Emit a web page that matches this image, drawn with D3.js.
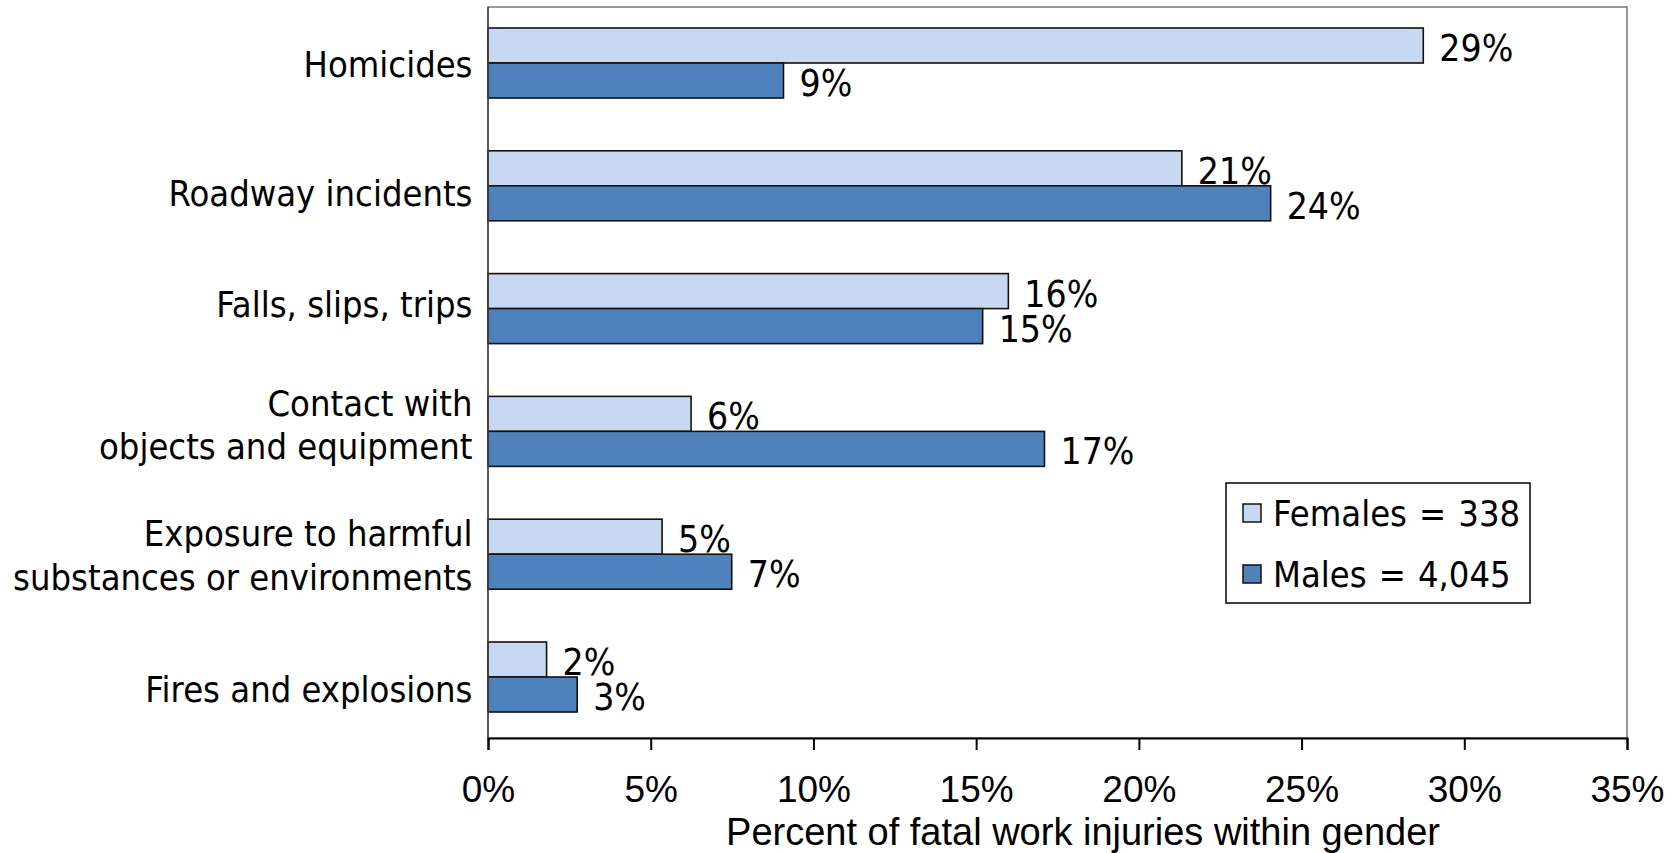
<!DOCTYPE html>
<html>
<head>
<meta charset="utf-8">
<script src="https://cdn.jsdelivr.net/npm/d3@7"></script>
<style>
  html, body { margin: 0; padding: 0; background: #fff; }
  svg { display: block; }
</style>
</head>
<body>
<svg id="chart" width="1680" height="853"></svg>
<script>
// ---------- data ----------
const categories = [
  "Homicides",
  "Roadway incidents",
  "Falls, slips, trips",
  "Contact with\nobjects and equipment",
  "Exposure to harmful\nsubstances or environments",
  "Fires and explosions"
];
const females = [28.74, 21.32, 15.99, 6.24, 5.35, 1.80];
const males   = [9.08, 24.05, 15.20, 17.10, 7.49, 2.74];
const seriesNames = ["Females = 338", "Males = 4,045"];
const xTickValues = [0, 5, 10, 15, 20, 25, 30, 35];
const xAxisTitle = "Percent of fatal work injuries within gender";

// ---------- layout ----------
const svg = d3.select("#chart");
const plot = { left: 488, right: 1627, top: 7, bottom: 738 };
const colors = { Females: "#C6D9F1", Males: "#4F81BD" };
const keys = ["Females", "Males"];
const tahomaFont = "'DejaVu Sans', Verdana, sans-serif";
const tahomaScale = 0.9;
const arialFont = "'Liberation Sans', Arial, sans-serif";
// small vertical nudges of the category labels (layout only, as in the original)
const labelNudge = [0, 6, -6, -8, 0, 11];

const x = d3.scaleLinear().domain([0, 35]).range([plot.left, plot.right]);
const y = d3.scaleBand().domain(categories).range([1.6, 738.4])
  .paddingInner(0.43).paddingOuter(0.215);
const ySub = d3.scaleBand().domain(keys).range([0, y.bandwidth()]);

const rows = categories.map((c, i) => ({ cat: c, Females: females[i], Males: males[i] }));

// plot area border
svg.append("rect")
  .attr("x", plot.left).attr("y", plot.top)
  .attr("width", plot.right - plot.left).attr("height", plot.bottom - plot.top)
  .attr("fill", "none").attr("stroke", "#555").attr("stroke-width", 1.2);

// bars
const groups = svg.append("g").selectAll("g").data(rows).join("g")
  .attr("transform", d => `translate(0,${y(d.cat)})`);

groups.selectAll("rect").data(d => keys.map(k => ({ k, v: d[k] }))).join("rect")
  .attr("x", x(0))
  .attr("y", d => ySub(d.k))
  .attr("width", d => x(d.v) - x(0))
  .attr("height", ySub.bandwidth())
  .attr("fill", d => colors[d.k])
  .attr("stroke", "#111")
  .attr("stroke-width", 1.6);

// value labels
groups.selectAll("text.val").data(d => keys.map(k => ({ k, v: d[k] }))).join("text")
  .attr("class", "val")
  .attr("transform", d => `translate(${x(d.v) + 16},${ySub(d.k) + ySub.bandwidth() / 2 + 15.5}) scale(${tahomaScale},1)`)
  .attr("font-family", tahomaFont)
  .attr("font-size", 37)
  .attr("fill", "#000")
  .text(d => Math.round(d.v) + "%");

// category labels
const catG = svg.append("g");
categories.forEach((c, i) => {
  const lines = c.split("\n");
  const cy = y(c) + y.bandwidth() / 2 + labelNudge[i];
  const lh = 43.5;
  lines.forEach((ln, j) => {
    const by = cy + 14 + (j - (lines.length - 1) / 2) * lh;
    catG.append("text")
      .attr("transform", `translate(472.5,${by}) scale(${tahomaScale},1)`)
      .attr("text-anchor", "end")
      .attr("font-family", tahomaFont)
      .attr("font-size", 36)
      .attr("fill", "#000")
      .text(ln);
  });
});

// x axis
const xAxis = d3.axisBottom(x).tickValues(xTickValues).tickSize(12).tickPadding(0)
  .tickFormat(d => d + "%");
const gx = svg.append("g").attr("transform", `translate(0,${plot.bottom})`).call(xAxis);
gx.select(".domain").attr("stroke", "#000").attr("stroke-width", 2);
gx.selectAll(".tick line").attr("stroke", "#000").attr("stroke-width", 2);
gx.selectAll(".tick text")
  .attr("font-family", arialFont)
  .attr("font-size", 37)
  .attr("fill", "#000")
  .attr("dy", null)
  .attr("y", 64);

// x axis title
svg.append("text")
  .attr("x", 1083).attr("y", 845)
  .attr("text-anchor", "middle")
  .attr("font-family", arialFont)
  .attr("font-size", 38)
  .attr("fill", "#000")
  .text(xAxisTitle);

// y axis line
svg.append("line")
  .attr("x1", plot.left).attr("x2", plot.left)
  .attr("y1", plot.top).attr("y2", plot.bottom)
  .attr("stroke", "#444").attr("stroke-width", 1.5);

// legend
const lg = svg.append("g");
lg.append("rect")
  .attr("x", 1226).attr("y", 483).attr("width", 304).attr("height", 120)
  .attr("fill", "#fff").attr("stroke", "#111").attr("stroke-width", 1.6);
keys.forEach((k, i) => {
  const top = 504 + i * 61;
  lg.append("rect")
    .attr("x", 1243).attr("y", top).attr("width", 18).attr("height", 18)
    .attr("fill", colors[k]).attr("stroke", "#111").attr("stroke-width", 1.5);
  lg.append("text")
    .attr("transform", `translate(1273,${top + 22}) scale(${tahomaScale},1)`)
    .attr("font-family", tahomaFont)
    .attr("font-size", 36)
    .attr("word-spacing", 2)
    .attr("fill", "#000")
    .text(seriesNames[i]);
});
</script>
</body>
</html>
